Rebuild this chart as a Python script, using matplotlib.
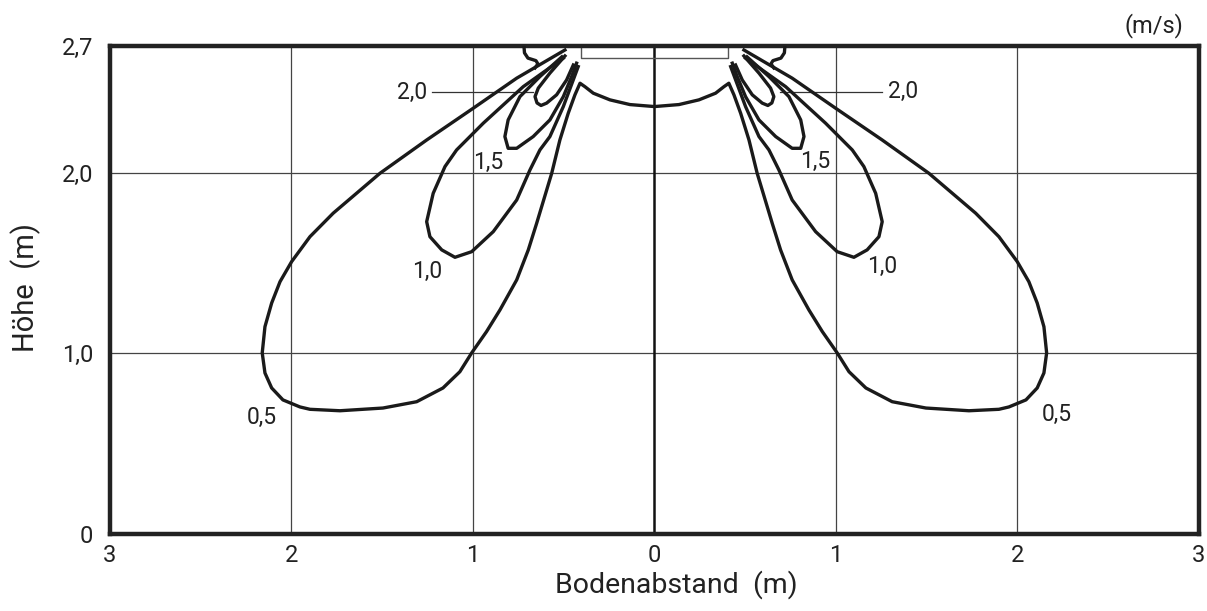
import matplotlib.pyplot as plt

plt.rcParams['font.family'] = ['Liberation Sans Narrow', 'Roboto', 'DejaVu Sans']

# isovel curves, left half (m); the right half is the mirror image
v05_x = [-0.493, -0.759, -0.998, -1.255, -1.512, -1.770, -1.898, -1.999, -2.063, -2.109,
         -2.146, -2.161, -2.146, -2.109, -2.047, -1.953, -1.898, -1.733, -1.496, -1.310,
         -1.165, -1.072, -1.007, -0.925, -0.851, -0.759, -0.695, -0.649, -0.566, -0.521,
         -0.475, -0.438, -0.410, -0.383, -0.337, -0.245, -0.135, 0.0]
v05_y = [2.678, 2.522, 2.356, 2.180, 1.996, 1.775, 1.645, 1.507, 1.396, 1.278,
         1.147, 1.002, 0.891, 0.808, 0.742, 0.703, 0.690, 0.682, 0.697, 0.732,
         0.808, 0.898, 1.002, 1.120, 1.240, 1.406, 1.572, 1.719, 1.996, 2.180,
         2.328, 2.430, 2.494, 2.475, 2.439, 2.402, 2.376, 2.365]

v10_x = [-0.502, -0.723, -0.943, -1.090, -1.154, -1.219, -1.255, -1.237, -1.172, -1.099,
         -1.007, -0.888, -0.759, -0.686, -0.631, -0.576, -0.502, -0.420]
v10_y = [2.633, 2.475, 2.273, 2.125, 2.033, 1.885, 1.728, 1.645, 1.572, 1.531,
         1.562, 1.673, 1.848, 2.014, 2.125, 2.199, 2.365, 2.586]

v15_x = [-0.510, -0.631, -0.741, -0.806, -0.824, -0.806, -0.759, -0.668, -0.576, -0.502,
         -0.456, -0.429]
v15_y = [2.640, 2.531, 2.420, 2.291, 2.199, 2.134, 2.134, 2.199, 2.291, 2.420,
         2.531, 2.605]

v20_x = [-0.493, -0.576, -0.640, -0.658, -0.647, -0.625, -0.594, -0.539, -0.484, -0.447]
v20_y = [2.645, 2.550, 2.467, 2.420, 2.385, 2.371, 2.384, 2.430, 2.512, 2.595]

# small hook near the ceiling
hook_x = [-0.719, -0.716, -0.697, -0.653, -0.642, -0.658]
hook_y = [2.700, 2.662, 2.633, 2.619, 2.601, 2.579]

diff_x = [-0.405, -0.405, 0.405, 0.405]
diff_y = [2.700, 2.634, 2.634, 2.700]

xticks = [-3, -2, -1, 0, 1, 2, 3]
xlabels = ['3', '2', '1', '0', '1', '2', '3']
yticks = [0, 1, 2, 2.7]
ylabels = ['0', '1,0', '2,0', '2,7']

labels = [('2,0', -1.338, 2.445), ('2,0', 1.369, 2.448),
          ('1,5', -0.917, 2.053), ('1,5', 0.887, 2.059),
          ('1,0', -1.255, 1.452), ('1,0', 1.253, 1.483),
          ('0,5', -2.164, 0.645), ('0,5', 2.218, 0.664)]
leaders = [([-1.227, -0.669], [2.445, 2.445]), ([0.691, 1.252], [2.445, 2.445])]

fig = plt.figure(figsize=(12.07, 6.11), dpi=100)
ax = fig.add_axes([0.0911, 0.126, 0.9022, 0.7987])
ax.set_xlim(-3, 3)
ax.set_ylim(0, 2.7)

for g in [-2, -1, 1, 2]:
    ax.axvline(g, color='#444444', lw=0.9, zorder=1)
for g in [1, 2]:
    ax.axhline(g, color='#444444', lw=0.9, zorder=1)
ax.axvline(0, color='#111111', lw=1.8, zorder=1)
ax.plot(diff_x, diff_y, color='#555555', lw=1.0, zorder=2)

kw = dict(color='#1a1a1a', lw=2.4, solid_joinstyle='round', zorder=3)
full05_x = v05_x + [-x for x in v05_x[::-1]]
full05_y = v05_y + v05_y[::-1]
ax.plot(full05_x, full05_y, **kw)
for cx, cy in [(v10_x, v10_y), (v15_x, v15_y), (v20_x, v20_y), (hook_x, hook_y)]:
    ax.plot(cx, cy, **kw)
    ax.plot([-x for x in cx], cy, **kw)

for lx, ly in leaders:
    ax.plot(lx, ly, color='#333333', lw=0.9, zorder=2)
for t, x, y in labels:
    ax.text(x, y, t, ha='center', va='center', fontsize=16.5, color='#222222')

ax.set_xticks(xticks)
ax.set_xticklabels(xlabels)
ax.set_yticks(yticks)
ax.set_yticklabels(ylabels)
ax.tick_params(axis='x', length=0, pad=7, labelsize=17, colors='#222222')
ax.tick_params(axis='y', length=0, pad=12, labelsize=17, colors='#222222')
for s in ax.spines.values():
    s.set_linewidth(3.2)
    s.set_color('#222222')

fig.text(26 / 1207, 1 - 288 / 611, 'Höhe  (m)', rotation=90, ha='center', va='center',
         fontsize=21, color='#222222')
fig.text(676 / 1207, 1 - 585 / 611, 'Bodenabstand  (m)', ha='center', va='center',
         fontsize=20.5, color='#222222')
fig.text(1154 / 1207, 1 - 26 / 611, '(m/s)', ha='center', va='center',
         fontsize=17, color='#222222')

fig.savefig('out.png', dpi=100)
